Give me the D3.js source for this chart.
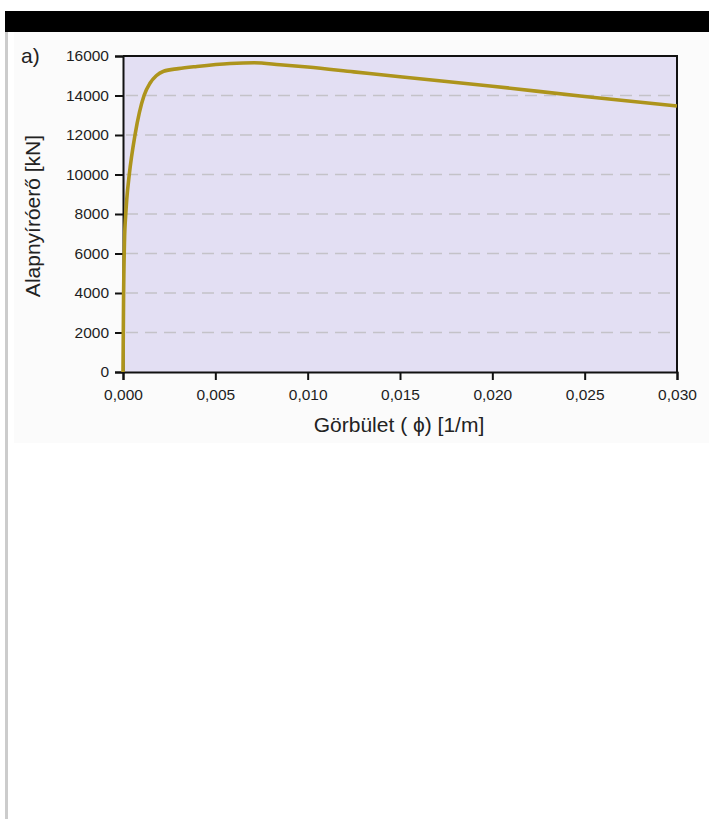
<!DOCTYPE html>
<html>
<head>
<meta charset="utf-8">
<script src="https://cdn.jsdelivr.net/npm/d3@7"></script>
<style>
  body { margin: 0; background: #fff; }
  svg { display: block; font-family: "Liberation Sans", Arial, sans-serif; }
</style>
</head>
<body>
<div id="chart"></div>
<script>
// curvature [1/m] and base shear [kN]
var curvature = [0, 0.00003, 0.00008, 0.00015, 0.0002, 0.00034, 0.00065, 0.00114, 0.00146, 0.0018, 0.0022, 0.003, 0.004, 0.0058, 0.0071, 0.0085, 0.0100, 0.0125, 0.015, 0.020, 0.025, 0.030];
var shear = [0, 3700, 6600, 8000, 8700, 10000, 12000, 14000, 14620, 15000, 15230, 15360, 15470, 15620, 15660, 15560, 15440, 15195, 14950, 14470, 13950, 13470];
var xTicks = [0, 0.005, 0.010, 0.015, 0.020, 0.025, 0.030];
var yTicks = [0, 2000, 4000, 6000, 8000, 10000, 12000, 14000, 16000];

var W = 709, H = 819;
var svg = d3.select("#chart").append("svg")
    .attr("width", W)
    .attr("height", H);

// page frame bits
svg.append("rect").attr("x", 5).attr("y", 11).attr("width", 704).attr("height", 21).attr("fill", "#000");
svg.append("rect").attr("x", 5).attr("y", 32).attr("width", 3).attr("height", H - 32).attr("fill", "#cccccc");
svg.append("rect").attr("x", 14).attr("y", 32).attr("width", 695).attr("height", 411).attr("fill", "#fbfbfb");

var pLeft = 123, pTop = 56, pRight = 677, pBottom = 372;

var x = d3.scaleLinear().domain([0, 0.030]).range([pLeft, pRight]);
var y = d3.scaleLinear().domain([0, 16000]).range([pBottom, pTop]);

svg.append("rect")
    .attr("x", pLeft).attr("y", pTop)
    .attr("width", pRight - pLeft).attr("height", pBottom - pTop)
    .attr("fill", "#e3dff3");

// dashed grid
svg.append("g").selectAll("line")
    .data(yTicks.filter(function(d){ return d > 0 && d < 16000; }))
    .enter().append("line")
    .attr("x1", pLeft + 3).attr("x2", pRight)
    .attr("y1", function(d){ return y(d); })
    .attr("y2", function(d){ return y(d); })
    .style("stroke", "#c4c2c8")
    .style("stroke-width", 1.5)
    .style("stroke-dasharray", "12,7");

// frame top / right
svg.append("path")
    .attr("d", "M" + pLeft + "," + pTop + "H" + pRight + "V" + pBottom)
    .attr("fill", "none")
    .style("stroke", "#111")
    .style("stroke-width", 2);

var xAxis = svg.append("g")
    .attr("transform", "translate(0," + pBottom + ")")
    .call(d3.axisBottom(x).tickValues(xTicks).tickSize(8).tickPadding(9)
        .tickFormat(function(d){ return d3.format(".3f")(d).replace(".", ","); }));

var yAxis = svg.append("g")
    .attr("transform", "translate(" + pLeft + ",0)")
    .call(d3.axisLeft(y).tickValues(yTicks).tickSize(8).tickPadding(6)
        .tickFormat(d3.format("d")));

[xAxis, yAxis].forEach(function(a){
    a.select(".domain").style("stroke", "#111").style("stroke-width", 2);
    a.selectAll(".tick line").style("stroke", "#111").style("stroke-width", 2);
    a.selectAll("text").style("font-size", "15.5px").style("fill", "#1e1e1e")
        .style("font-family", "'Liberation Sans', Arial, sans-serif");
});

var pts = curvature.map(function(c, i){ return [c, shear[i]]; });
svg.append("path")
    .datum(pts)
    .attr("d", d3.line().x(function(d){ return x(d[0]); }).y(function(d){ return y(d[1]); }).curve(d3.curveMonotoneX))
    .attr("fill", "none")
    .style("stroke", "#ad941c")
    .style("stroke-width", 3.6)
    .style("stroke-linejoin", "round");

svg.append("text")
    .attr("x", 399).attr("y", 432)
    .attr("text-anchor", "middle")
    .style("font-size", "21px").style("fill", "#222")
    .text("Görbület ( ϕ) [1/m]");

svg.append("text")
    .attr("transform", "translate(40,216) rotate(-90)")
    .attr("text-anchor", "middle")
    .style("font-size", "21px").style("fill", "#222")
    .text("Alapnyíróerő [kN]");

svg.append("text")
    .attr("x", 21).attr("y", 63)
    .style("font-size", "21px").style("fill", "#222")
    .text("a)");
</script>
</body>
</html>
